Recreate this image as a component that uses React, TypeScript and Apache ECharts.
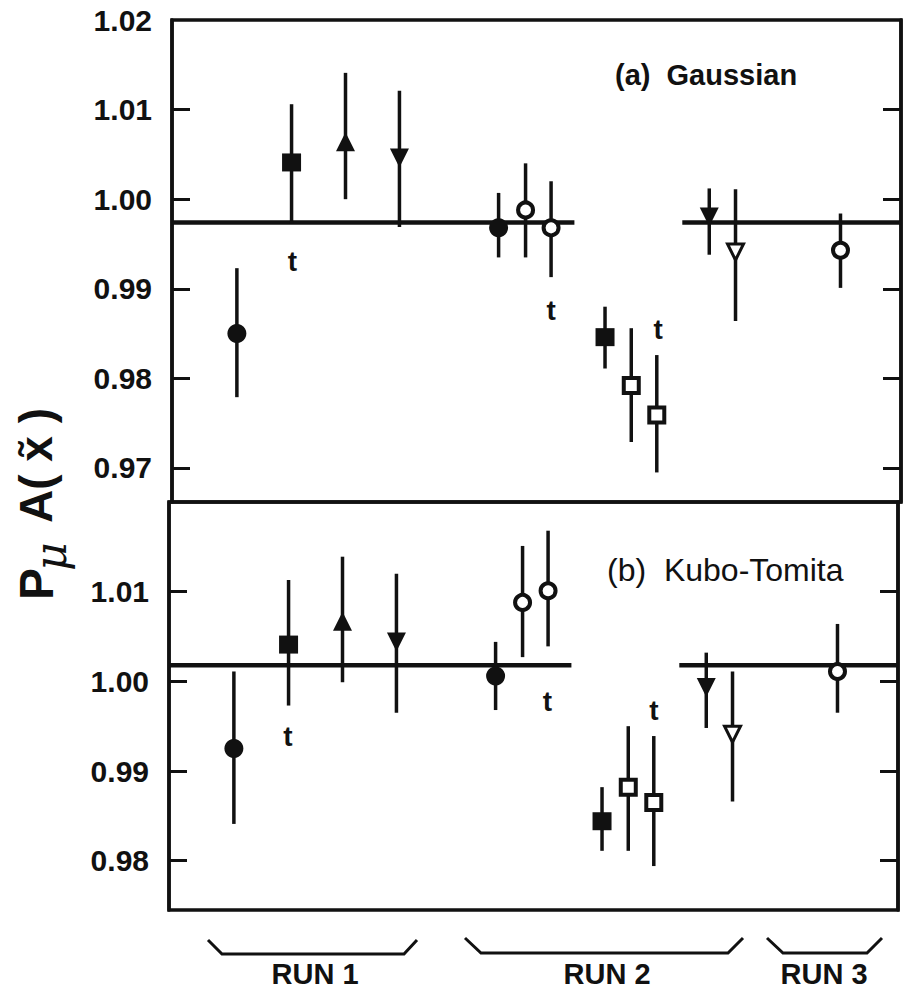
import React, { useEffect, useRef } from "react";
import * as echarts from "echarts";

// Horizontal positions of the measurements (arbitrary units, 0..100 across the frame)
const xPos = [8.9, 16.4, 23.8, 31.2, 44.8, 48.5, 52.0, 59.4, 63.0, 66.5, 73.7, 77.3, 91.7];
const markerKinds = ["dot", "block", "up", "down", "dot", "ring", "ring", "block", "box", "box", "down", "downOpen", "ring"];

// (a) Gaussian
const gaussVal = [0.9850, 1.0041, 1.0064, 1.0046, 0.9968, 0.9988, 0.9968, 0.9846, 0.9792, 0.9759, 0.9980, 0.9941, 0.9943];
const gaussHi = [0.9923, 1.0106, 1.0141, 1.0121, 1.0007, 1.0040, 1.0020, 0.9880, 0.9856, 0.9826, 1.0012, 1.0011, 0.9984];
const gaussLo = [0.9779, 0.9973, 1.0000, 0.9969, 0.9935, 0.9935, 0.9913, 0.9811, 0.9729, 0.9695, 0.9938, 0.9864, 0.9901];
const gaussFit = 0.9974;
const gaussT = [[16.5, 0.9930], [52.0, 0.9876], [66.7, 0.9854]];

// (b) Kubo-Tomita
const kuboVal = [0.9925, 1.0041, 1.0067, 1.0044, 1.0006, 1.0088, 1.0101, 0.9844, 0.9882, 0.9865, 0.9993, 0.9941, 1.0011];
const kuboHi = [1.0011, 1.0113, 1.0139, 1.0120, 1.0044, 1.0151, 1.0168, 0.9882, 0.9950, 0.9939, 1.0032, 1.0011, 1.0064];
const kuboLo = [0.9841, 0.9973, 0.9999, 0.9965, 0.9968, 1.0027, 1.0039, 0.9811, 0.9811, 0.9794, 0.9948, 0.9866, 0.9965];
const kuboFit = 1.0018;
const kuboT = [[16.3, 0.9938], [51.9, 0.9978], [66.5, 0.9967]];

const fitSegments = [[0, 55.2], [70, 100]];

const rangeA = [0.9662, 1.02];
const rangeB = [0.9745, 1.02];
const ticksA = [0.97, 0.98, 0.99, 1.0, 1.01];
const labelsA = [0.97, 0.98, 0.99, 1.0, 1.01, 1.02];
const ticksB = [0.98, 0.99, 1.0, 1.01];
const labelsB = [0.98, 0.99, 1.0, 1.01];

const runLabels = ["RUN 1", "RUN 2", "RUN 3"];

const INK = "#111";
const FONT = "'Liberation Sans', Arial, Helvetica, sans-serif";

function markerItem(kind: string, x: number, v: number) {
  const base: any = { value: [x, v] };
  const filled = { color: INK, opacity: 1 };
  const open = { color: "#fff", borderColor: INK, borderWidth: 4, opacity: 1 };
  switch (kind) {
    case "dot":
      return { ...base, symbol: "circle", symbolSize: 19, itemStyle: filled };
    case "ring":
      return { ...base, symbol: "circle", symbolSize: 15, itemStyle: open };
    case "block":
      return { ...base, symbol: "rect", symbolSize: [19, 18], itemStyle: filled };
    case "box":
      return { ...base, symbol: "rect", symbolSize: 15, itemStyle: open };
    case "up":
      return { ...base, symbol: "triangle", symbolSize: 19, itemStyle: filled };
    case "down":
      return { ...base, symbol: "triangle", symbolRotate: 180, symbolSize: 19, itemStyle: filled };
    case "downOpen":
      return { ...base, symbol: "triangle", symbolRotate: 180, symbolSize: 16, itemStyle: { ...open, borderWidth: 3 } };
  }
  return base;
}

function panelSeries(idx: number, vals: number[], lo: number[], hi: number[], fit: number, tMarks: number[][]) {
  const s: any[] = [];
  fitSegments.forEach((seg) => {
    s.push({
      type: "line",
      xAxisIndex: idx,
      yAxisIndex: idx * 2,
      data: [[seg[0], fit], [seg[1], fit]],
      symbol: "none",
      lineStyle: { color: INK, width: 4.5 },
      z: 2,
      silent: true,
    });
  });
  s.push({
    type: "custom",
    xAxisIndex: idx,
    yAxisIndex: idx * 2,
    data: xPos.map((x, i) => [x, lo[i], hi[i]]),
    encode: { x: 0, y: [1, 2] },
    renderItem: (params: any, api: any) => {
      const x = api.value(0);
      const p1 = api.coord([x, api.value(1)]);
      const p2 = api.coord([x, api.value(2)]);
      return {
        type: "line",
        shape: { x1: p1[0], y1: p1[1], x2: p2[0], y2: p2[1] },
        style: { stroke: INK, lineWidth: 3.5 },
      };
    },
    z: 3,
    silent: true,
  });
  s.push({
    type: "scatter",
    xAxisIndex: idx,
    yAxisIndex: idx * 2,
    data: xPos.map((x, i) => markerItem(markerKinds[i], x, vals[i])),
    z: 4,
    silent: true,
  });
  s.push({
    type: "custom",
    xAxisIndex: idx,
    yAxisIndex: idx * 2,
    data: tMarks,
    encode: { x: 0, y: 1 },
    renderItem: (params: any, api: any) => {
      const p = api.coord([api.value(0), api.value(1)]);
      return {
        type: "text",
        x: p[0],
        y: p[1],
        style: {
          text: "t",
          font: `bold 28px ${FONT}`,
          fill: INK,
          textAlign: "center",
          textVerticalAlign: "middle",
        },
      };
    },
    z: 5,
    silent: true,
  });
  return s;
}

function yAxes(gridIndex: number, range: number[], ticks: number[], labels: number[]) {
  const common = {
    type: "value",
    gridIndex,
    min: range[0],
    max: range[1],
    splitLine: { show: false },
    axisLine: { show: true, lineStyle: { color: INK, width: 3.5 } },
    axisTick: { show: true, inside: true, length: 18, customValues: ticks, lineStyle: { color: INK, width: 3 } },
  };
  return [
    {
      ...common,
      position: "left",
      axisLabel: {
        show: true,
        customValues: labels,
        formatter: (v: number) => v.toFixed(2),
        color: INK,
        fontSize: 30,
        fontWeight: "bold",
        fontFamily: FONT,
        margin: 20,
      },
    },
    {
      ...common,
      position: "right",
      axisLabel: { show: false },
    },
  ];
}

export default function App() {
  const ref = useRef<HTMLDivElement>(null);
  useEffect(() => {
    if (!ref.current) return;
    const chart = echarts.init(ref.current, null, { renderer: "svg" });
    const bracket = (pts: number[][]) => ({
      type: "polyline",
      shape: { points: pts },
      style: { stroke: INK, lineWidth: 3, fill: null },
      silent: true,
    });
    const option: any = {
      animation: false,
      backgroundColor: "#fff",
      grid: [
        { left: 172, right: 2, top: 20, height: 482, show: true, borderColor: INK, borderWidth: 3.5 },
        { left: 169, right: 5, top: 502, height: 408, show: true, borderColor: INK, borderWidth: 3.5 },
      ],
      xAxis: [
        { type: "value", gridIndex: 0, min: 0, max: 100, show: false },
        { type: "value", gridIndex: 1, min: 0, max: 100, show: false },
      ],
      yAxis: [...yAxes(0, rangeA, ticksA, labelsA), ...yAxes(1, rangeB, ticksB, labelsB)],
      series: [
        ...panelSeries(0, gaussVal, gaussLo, gaussHi, gaussFit, gaussT),
        ...panelSeries(1, kuboVal, kuboLo, kuboHi, kuboFit, kuboT),
      ],
      graphic: [
        {
          type: "group",
          x: 53,
          y: 600,
          rotation: Math.PI / 2,
          children: [
            { type: "text", x: 0, y: -17, style: { text: "P", font: `bold 48px ${FONT}`, fill: INK, textAlign: "left", textVerticalAlign: "middle" } },
            { type: "text", x: 29, y: -3, style: { text: "μ", font: `italic 44px 'DejaVu Serif', serif`, fill: INK, textAlign: "left", textVerticalAlign: "middle" } },
            { type: "text", x: 77, y: -17, style: { text: "A( x\u0303 )", font: `bold 46px ${FONT}`, fill: INK, textAlign: "left", textVerticalAlign: "middle" } },
          ],
        },
        { type: "text", x: 615, y: 75, style: { text: "(a)  Gaussian", font: `bold 29px ${FONT}`, fill: INK, textAlign: "left", textVerticalAlign: "middle" } },
        { type: "text", x: 607, y: 570, style: { text: "(b)  Kubo-Tomita", font: `32px ${FONT}`, fill: INK, textAlign: "left", textVerticalAlign: "middle" } },
        bracket([[208, 940], [222, 954], [404, 954], [417, 940]]),
        bracket([[465, 938], [481, 953], [728, 953], [743, 938]]),
        bracket([[767, 938], [783, 953], [867, 953], [882, 938]]),
        { type: "text", x: 315, y: 974, style: { text: runLabels[0], font: `bold 29px ${FONT}`, fill: INK, textAlign: "center", textVerticalAlign: "middle" } },
        { type: "text", x: 607, y: 974, style: { text: runLabels[1], font: `bold 29px ${FONT}`, fill: INK, textAlign: "center", textVerticalAlign: "middle" } },
        { type: "text", x: 824, y: 974, style: { text: runLabels[2], font: `bold 29px ${FONT}`, fill: INK, textAlign: "center", textVerticalAlign: "middle" } },
      ],
    };
    chart.setOption(option);
    return () => chart.dispose();
  }, []);
  return (
    <div
      ref={ref}
      style={{ position: "absolute", left: 0, top: 0, width: 903, height: 990, background: "#fff" }}
    />
  );
}
